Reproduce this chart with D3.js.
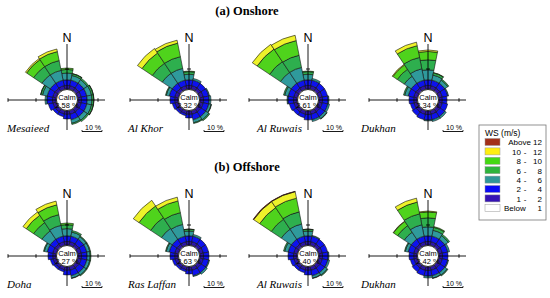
<!DOCTYPE html>
<html><head><meta charset="utf-8">
<script src="https://cdn.jsdelivr.net/npm/d3@7/dist/d3.min.js"></script>
<style>body{margin:0;background:#fff}svg{display:block}</style>
</head><body><svg id="chart" width="550" height="298"></svg>
<script>
// ---------- data ----------
const directions = ["N","NNE","NE","ENE","E","ESE","SE","SSE","S","SSW","SW","WSW","W","WNW","NW","NNW"];
const speedClasses = ["1 - 2","2 - 4","4 - 6","6 - 8","8 - 10","10 - 12","Above 12"];
const panelTitles = ["(a) Onshore","(b) Offshore"];
const stationNames = ["Mesaieed","Al Khor","Al Ruwais","Dukhan","Doha","Ras Laffan","Al Ruwais","Dukhan"];
const calmValues = ["2.58","2.32","2.61","2.34","2.27","2.63","2.40","2.42"];
const legendItems = [["Above 12"],["10","12"],["8","10"],["6","8"],["4","6"],["2","4"],["1","2"],["Below","1"]];
const scaleBarLabel = "10 %";

// frequency (%) per direction (N..NNW) per speed class (1-2 .. >12)
const mesaieed = [
 [1.8,2.8,3.4,1.8,0.7,0,0],[1.8,2.8,2.4,0.9,0.1,0,0],[1.8,2.8,2.1,0.8,0,0,0],[1.8,2.8,2.4,0.9,0.1,0,0],
 [1.8,2.8,2.4,0.9,0.1,0,0],[1.8,2.8,2.4,0.9,0.1,0,0],[1.8,2.8,2.1,0.8,0,0,0],[1.8,2.8,1.8,0.6,0,0,0],
 [1.7,2.3,0,0,0,0,0],[1.6,1.4,0,0,0,0,0],[1.6,1.4,0,0,0,0,0],[1.7,2.3,0,0,0,0,0],
 [1.8,2.8,0.9,0,0,0,0],[1.8,2.8,2.4,0.9,0.1,0,0],[1.8,2.8,5.0,5.0,4.2,0.7,0],[1.8,2.8,5.0,5.0,4.6,1.3,0]];
const alKhor = [
 [1.8,2.8,2.8,1.3,0.3,0,0],[1.8,2.8,0.9,0,0,0,0],[1.8,2.7,0,0,0,0,0],[1.8,2.8,0.4,0,0,0,0],
 [1.8,2.8,0.9,0,0,0,0],[1.8,2.8,1.2,0.2,0,0,0],[1.8,2.8,1.8,0.6,0,0,0],[1.8,2.8,1.5,0.4,0,0,0],
 [1.7,1.8,0,0,0,0,0],[1.5,1.0,0,0,0,0,0],[1.5,1.0,0,0,0,0,0],[1.6,1.4,0,0,0,0,0],
 [1.7,2.3,0,0,0,0,0],[1.8,2.8,1.5,0.4,0,0,0],[1.8,2.8,6.0,6.0,6.2,2.7,0],[1.8,2.8,6.0,6.0,6.9,1.5,0]];
const alRuwaisOn = [
 [1.8,2.8,2.8,1.3,0.3,0,0],[1.8,2.8,0.9,0,0,0,0],[1.8,2.7,0,0,0,0,0],[1.8,2.7,0,0,0,0,0],
 [1.8,2.8,0.4,0,0,0,0],[1.8,2.8,0.9,0,0,0,0],[1.8,2.8,1.2,0.2,0,0,0],[1.8,2.8,0.9,0,0,0,0],
 [1.8,2.7,0,0,0,0,0],[1.7,1.8,0,0,0,0,0],[1.7,1.8,0,0,0,0,0],[1.7,2.3,0,0,0,0,0],
 [1.8,2.8,0.4,0,0,0,0],[1.8,2.8,1.8,0.6,0,0,0],[1.8,2.8,6.5,6.5,7.5,2.9,0],[1.8,2.8,6.5,6.2,7.5,2.7,0]];
const dukhanOn = [
 [1.8,2.8,5.0,5.0,4.2,0.7,0],[1.8,2.8,2.6,1.1,0.2,0,0],[1.8,2.8,1.8,0.6,0,0,0],[1.8,2.8,0.4,0,0,0,0],
 [1.7,2.3,0,0,0,0,0],[1.8,2.7,0,0,0,0,0],[1.8,2.8,0.9,0,0,0,0],[1.8,2.8,0.9,0,0,0,0],
 [1.8,2.8,0.4,0,0,0,0],[1.8,2.7,0,0,0,0,0],[1.7,2.3,0,0,0,0,0],[1.7,1.8,0,0,0,0,0],
 [1.7,2.3,0,0,0,0,0],[1.8,2.8,1.8,0.6,0,0,0],[1.8,2.8,4.2,4.2,2.6,0.4,0],[1.8,2.8,5.8,5.8,6.0,1.8,0]];
const doha = [
 [1.8,2.8,3.6,2.0,0.8,0,0],[1.8,2.8,2.1,0.8,0,0,0],[1.8,2.8,1.5,0.4,0,0,0],[1.8,2.8,1.5,0.4,0,0,0],
 [1.8,2.8,1.5,0.4,0,0,0],[1.8,2.8,1.5,0.4,0,0,0],[1.8,2.8,1.5,0.4,0,0,0],[1.8,2.8,1.2,0.2,0,0,0],
 [1.7,2.3,0,0,0,0,0],[1.5,1.0,0,0,0,0,0],[1.5,1.0,0,0,0,0,0],[1.6,1.4,0,0,0,0,0],
 [1.7,2.3,0,0,0,0,0],[1.8,2.8,1.5,0.4,0,0,0],[1.8,2.8,5.0,5.0,4.4,2.0,0],[1.8,2.8,5.5,5.5,5.0,1.9,0]];
const rasLaffan = [
 [1.8,2.8,2.4,0.9,0.1,0,0],[1.8,2.8,0.9,0,0,0,0],[1.8,2.7,0,0,0,0,0],[1.8,2.7,0,0,0,0,0],
 [1.8,2.7,0,0,0,0,0],[1.8,2.8,0.4,0,0,0,0],[1.8,2.8,0.9,0,0,0,0],[1.8,2.8,0.4,0,0,0,0],
 [1.7,1.8,0,0,0,0,0],[1.5,1.0,0,0,0,0,0],[1.5,1.0,0,0,0,0,0],[1.6,1.4,0,0,0,0,0],
 [1.7,2.3,0,0,0,0,0],[1.8,2.8,1.5,0.4,0,0,0],[1.8,2.8,6.5,6.5,7.0,3.4,0],[1.8,2.8,6.0,6.0,6.0,1.9,0]];
const alRuwaisOff = [
 [1.8,2.8,2.4,0.9,0.1,0,0],[1.8,2.8,0.4,0,0,0,0],[1.8,2.7,0,0,0,0,0],[1.8,2.7,0,0,0,0,0],
 [1.8,2.8,0.4,0,0,0,0],[1.8,2.8,0.9,0,0,0,0],[1.8,2.8,1.5,0.4,0,0,0],[1.8,2.8,1.2,0.2,0,0,0],
 [1.7,2.3,0,0,0,0,0],[1.6,1.4,0,0,0,0,0],[1.6,1.4,0,0,0,0,0],[1.7,1.8,0,0,0,0,0],
 [1.8,2.7,0,0,0,0,0],[1.8,2.8,1.8,0.6,0,0,0],[1.8,2.8,6.0,6.0,7.0,3.6,0.3],[1.8,2.8,6.2,6.2,7.0,3.3,0.2]];
const dukhanOff = [
 [1.8,2.8,4.5,4.5,3.0,0.4,0],[1.8,2.8,3.0,1.5,0.4,0,0],[1.8,2.8,2.1,0.8,0,0,0],[1.8,2.8,0.9,0,0,0,0],
 [1.8,2.7,0,0,0,0,0],[1.8,2.8,0.4,0,0,0,0],[1.8,2.8,1.5,0.4,0,0,0],[1.8,2.8,1.2,0.2,0,0,0],
 [1.8,2.8,0.9,0,0,0,0],[1.8,2.7,0,0,0,0,0],[1.7,2.3,0,0,0,0,0],[1.7,1.8,0,0,0,0,0],
 [1.7,2.3,0,0,0,0,0],[1.8,2.8,1.5,0.4,0,0,0],[1.8,2.8,4.2,4.0,2.5,0.2,0],[1.8,2.8,5.8,5.6,6.0,2.0,0]];
const stationData = [mesaieed, alKhor, alRuwaisOn, dukhanOn, doha, rasLaffan, alRuwaisOff, dukhanOff];

// ---------- styles / layout ----------
const classColors = ["#2b14a6","#0d12ee","#2f9a9c","#2eaf4e","#4fd31c","#eef22a","#a3301a"];
const legendColors = ["#a3301a","#ffee10","#44d812","#2eb43c","#2f9798","#0a0af5","#3512b5","#ffffff"];
const colX = [67, 189, 308, 428];
const rowY = [100, 256];
const nameDx = [-60, -61, -51, -67];
const r0 = 11, k = 2;

const svg = d3.select("#chart");
const rScale = d3.scaleLinear().domain([0, 30]).range([r0, r0 + 30 * k]);
const angle = d3.scaleLinear().domain([0, directions.length]).range([0, 2 * Math.PI]);
const half = Math.PI / directions.length;
const arc = d3.arc();

// titles
svg.selectAll("text.ptitle").data(panelTitles).join("text")
  .attr("class","ptitle")
  .attr("x", 247).attr("y", (d,i) => i === 0 ? 15 : 171)
  .attr("text-anchor","middle")
  .attr("font-family","'Liberation Serif','Times New Roman',serif")
  .attr("font-weight","bold").attr("font-size",12.5)
  .text(d => d);

stationData.forEach((data, si) => {
  const cx = colX[si % 4], cy = rowY[Math.floor(si / 4)];
  const g = svg.append("g").attr("transform", `translate(${cx},${cy})`);
  const bands = [];
  data.forEach((vals, di) => {
    let cum = 0;
    vals.forEach((v, ci) => {
      if (v > 0) {
        bands.push({di, ci, a: cum, b: cum + v});
      }
      cum += v;
    });
  });
  g.selectAll("path.band").data(bands).join("path")
    .attr("class","band")
    .attr("d", d => arc({innerRadius: rScale(d.a), outerRadius: rScale(d.b),
                         startAngle: angle(d.di) - half, endAngle: angle(d.di) + half}))
    .attr("fill", d => classColors[d.ci])
    .attr("stroke", "#111").attr("stroke-width", 0.6).attr("stroke-linejoin","round");

  // axes
  const ax = g.append("g").attr("stroke","#000").attr("stroke-width",0.9).attr("fill","none");
  ax.append("line").attr("x1",-59).attr("x2",38).attr("y1",0).attr("y2",0);
  ax.append("line").attr("x1",0).attr("x2",0).attr("y1",-56).attr("y2",30);
  const t10 = rScale(10), t20 = rScale(20) + 6;
  [[-t10,0],[t10,0],[-t20 - 2,0]].forEach(([x,y]) => {
    ax.append("line").attr("x1",x).attr("x2",x).attr("y1",-1.8).attr("y2",1.8);
  });
  ax.append("line").attr("x1",-2).attr("x2",2).attr("y1",-t10).attr("y2",-t10);

  // calm circle
  g.append("circle").attr("r", r0 - 0.5).attr("fill","#fff").attr("stroke","#000").attr("stroke-width",0.8);
  g.append("text").attr("y",0).attr("text-anchor","middle")
    .attr("font-family","Arial,'Liberation Sans',sans-serif").attr("font-size",7.5).text("Calm");
  g.append("text").attr("y",7.5).attr("text-anchor","middle")
    .attr("font-family","Arial,'Liberation Sans',sans-serif").attr("font-size",7.5).text(calmValues[si] + " %");

  // N
  g.append("text").attr("y",-58).attr("text-anchor","middle")
    .attr("font-family","Arial,'Liberation Sans',sans-serif").attr("font-size",12.5).text("N");

  // station name
  g.append("text").attr("x", nameDx[si % 4]).attr("y", 32)
    .attr("font-family","'Liberation Serif','Times New Roman',serif").attr("font-style","italic")
    .attr("font-size",11).text(stationNames[si]);

  // scale bar
  const sb0 = 15, sb1 = 15 + (rScale(10) - rScale(0));
  g.append("line").attr("x1",sb0).attr("x2",sb1).attr("y1",31.5).attr("y2",31.5).attr("stroke","#000").attr("stroke-width",0.9);
  [sb0, sb1].forEach(x => g.append("line").attr("x1",x).attr("x2",x).attr("y1",30).attr("y2",31.5).attr("stroke","#000").attr("stroke-width",0.8));
  g.append("text").attr("x",(sb0+sb1)/2 + 1).attr("y",29.5).attr("text-anchor","middle")
    .attr("font-family","Arial,'Liberation Sans',sans-serif").attr("font-size",7).text(scaleBarLabel);
});

// legend
const lg = svg.append("g").attr("transform","translate(479,125)");
lg.append("rect").attr("width",67).attr("height",95).attr("fill","#fff").attr("stroke","#777").attr("stroke-width",0.8);
lg.append("text").attr("x",6).attr("y",10.5).attr("font-family","Arial,'Liberation Sans',sans-serif").attr("font-size",8.5).text("WS (m/s)");
const rows = lg.selectAll("g.row").data(legendItems).join("g").attr("class","row")
  .attr("transform",(d,i) => `translate(0,${13.5 + i * 9.4})`);
rows.append("rect").attr("x",6).attr("width",15).attr("height",7)
  .attr("fill",(d,i) => legendColors[i]).attr("stroke","#999").attr("stroke-width",0.5);
const lf = "Arial,'Liberation Sans',sans-serif";
rows.each(function(d){
  const r = d3.select(this);
  if (d.length === 1) {
    r.append("text").attr("x",63).attr("y",6.8).attr("text-anchor","end").attr("font-family",lf).attr("font-size",8).text(d[0]);
  } else if (d[0] === "Below") {
    r.append("text").attr("x",25).attr("y",6.8).attr("font-family",lf).attr("font-size",8).text(d[0]);
    r.append("text").attr("x",63).attr("y",6.8).attr("text-anchor","end").attr("font-family",lf).attr("font-size",8).text(d[1]);
  } else {
    r.append("text").attr("x",42).attr("y",6.8).attr("text-anchor","end").attr("font-family",lf).attr("font-size",8).text(d[0]);
    r.append("text").attr("x",46).attr("y",6.8).attr("text-anchor","middle").attr("font-family",lf).attr("font-size",8).text("-");
    r.append("text").attr("x",63).attr("y",6.8).attr("text-anchor","end").attr("font-family",lf).attr("font-size",8).text(d[1]);
  }
});
</script></body></html>
